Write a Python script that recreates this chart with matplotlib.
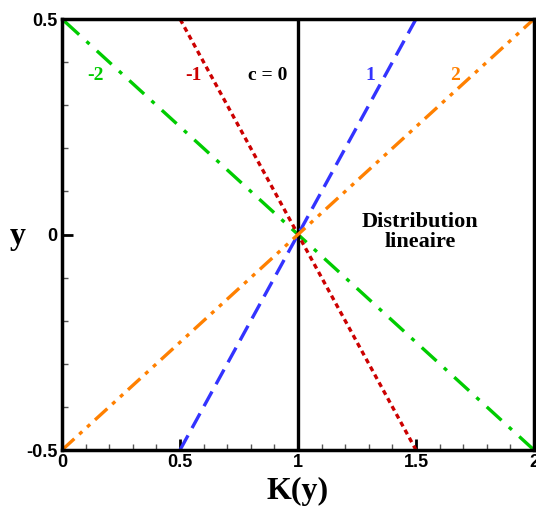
import numpy as np
import matplotlib
matplotlib.use("Agg")
import matplotlib.pyplot as plt
from matplotlib.ticker import MultipleLocator

# slopes c of the linear distributions K(y) = 1 + c*y
slopes = [-2, -1, 0, 1, 2]
labels = ["-2", "-1", "c = 0", "1", "2"]
colors = ["#00cc00", "#cc0000", "black", "#3333ff", "#ff8000"]
styles = [(0, (6, 3, 1.2, 3)), (0, (1.5, 1.2)), "-", (0, (5, 2.5)), (0, (5, 2, 1.2, 2, 1.2, 2))]
label_x = [0.14, 0.555, 0.873, 1.305, 1.665]
label_y = 0.37

x_ticks = [0, 0.5, 1, 1.5, 2]
x_tick_labels = ["0", "0.5", "1", "1.5", "2"]
y_ticks = [-0.5, 0, 0.5]
y_tick_labels = ["-0.5", "0", "0.5"]

y = np.linspace(-0.5, 0.5, 201)

fig = plt.figure(figsize=(5.36, 5.14), dpi=100)
ax = fig.add_axes([0.1157, 0.1245, 0.8806, 0.8385])

for c, lab, col, ls, lx in zip(slopes, labels, colors, styles, label_x):
    ax.plot(1 + c * y, y, color=col, linestyle=ls, linewidth=2.4)
    ax.text(lx, label_y, lab, color=col, fontsize=14, fontweight="bold",
            family="Liberation Serif", ha="center", va="center")

ax.text(1.517, 0.006, "Distribution\nlineaire", fontsize=16, fontweight="bold",
        family="Liberation Serif", ha="center", va="center", linespacing=1.0)

ax.set_xlim(0, 2)
ax.set_ylim(-0.5, 0.5)
ax.set_xticks(x_ticks)
ax.set_xticklabels(x_tick_labels)
ax.set_yticks(y_ticks)
ax.set_yticklabels(y_tick_labels)
ax.xaxis.set_minor_locator(MultipleLocator(0.1))
ax.yaxis.set_minor_locator(MultipleLocator(0.1))
ax.tick_params(which="major", direction="in", length=8, width=2,
               labelsize=13, pad=3)
ax.tick_params(which="minor", direction="in", length=4, width=1, color="#555555")
for t in ax.get_xticklabels() + ax.get_yticklabels():
    t.set_fontweight("bold")
    t.set_family("Liberation Sans")
for s in ax.spines.values():
    s.set_linewidth(2.5)

ax.set_xlabel("K(y)", fontsize=23, fontweight="bold", family="Liberation Serif",
              va="center")
ax.xaxis.set_label_coords(0.5, -0.097)
ax.set_ylabel("y", fontsize=23, fontweight="bold", family="Liberation Serif",
              rotation=0, va="center", ha="center")
ax.yaxis.set_label_coords(-0.093, 0.495)

fig.savefig("out.png", dpi=100)
